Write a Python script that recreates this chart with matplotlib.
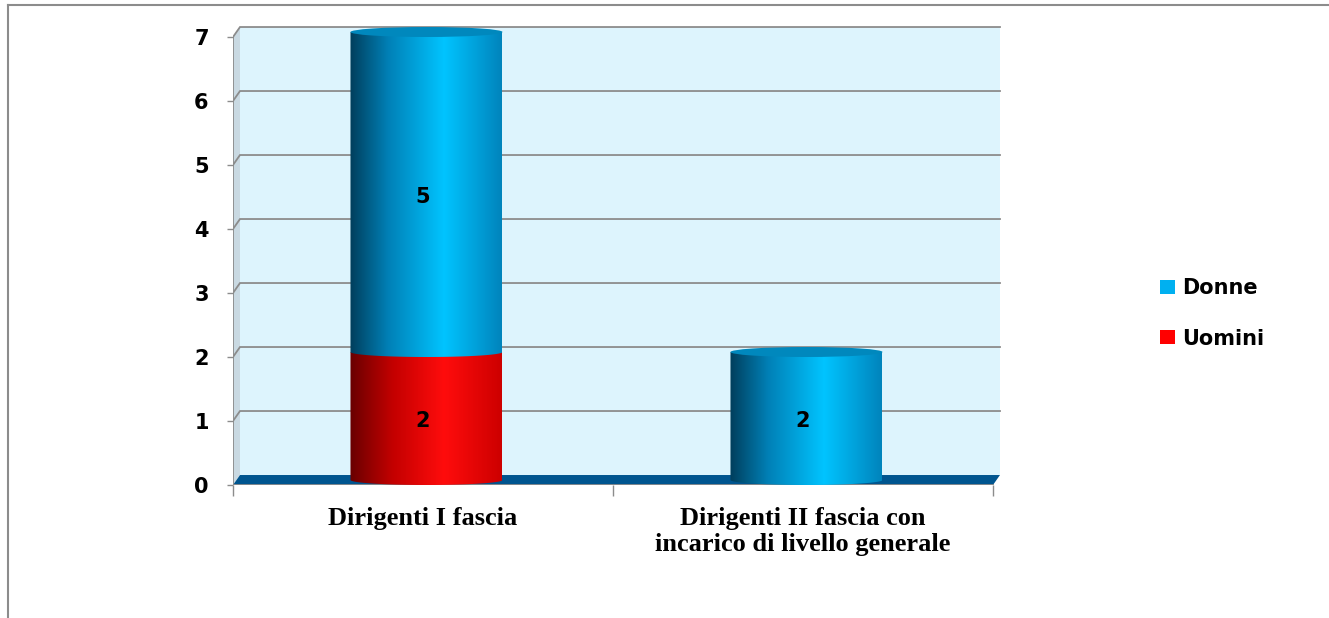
import numpy as np
import matplotlib
matplotlib.use("Agg")
import matplotlib.pyplot as plt
from matplotlib.patches import Polygon, PathPatch, Ellipse, Patch
from matplotlib.path import Path
from matplotlib.colors import LinearSegmentedColormap
from matplotlib.lines import Line2D

# Dati del grafico
categories = ["Dirigenti I fascia", "Dirigenti II fascia con\nincarico di livello generale"]
uomini = [2, 0]
donne = [5, 2]
series_names = ["Donne", "Uomini"]
y_ticks = [0, 1, 2, 3, 4, 5, 6, 7]

# Profondita' 3D in unita' dati
dx = 0.0184
dy = 0.156
bw = 0.4

sans = "DejaVu Sans"

blue_cmap = LinearSegmentedColormap.from_list("blu", [
  (0.0, (0/255, 62/255, 92/255)),
  (0.25, (0/255, 128/255, 182/255)),
  (0.62, (0/255, 196/255, 255/255)),
  (1.0, (0/255, 132/255, 188/255))])
red_cmap = LinearSegmentedColormap.from_list("rosso", [
  (0.0, (105/255, 0, 0)),
  (0.28, (195/255, 0, 0)),
  (0.62, (255/255, 12/255, 12/255)),
  (1.0, (205/255, 0, 0))])

def cylinder(ax, xc, y0, y1, cmap, top_color, draw_top=True):
  xm = xc + dx / 2
  x0 = xm - bw / 2
  x1 = xm + bw / 2
  yb = y0 + dy / 2
  yt = y1 + dy / 2
  e = dy / 2
  t = np.linspace(0, np.pi, 80)
  bx = xm + (bw / 2) * np.cos(t)
  by = yb - e * np.sin(t)
  verts = [(x0, yt), (x1, yt)] + list(zip(bx, by)) + [(x0, yt)]
  patch = PathPatch(Path(verts), fc="none", ec="none")
  ax.add_patch(patch)
  grad = np.linspace(0, 1, 256).reshape(1, -1)
  im = ax.imshow(grad, cmap=cmap, extent=[x0, x1, yb - e, yt], aspect="auto",
                 origin="lower", zorder=3, interpolation="bilinear")
  im.set_clip_path(patch)
  if draw_top:
    ax.add_patch(Ellipse((xm, yt), bw, 2 * e, fc=top_color, ec="none", zorder=4))

fig = plt.figure(figsize=(13.29, 6.18), dpi=100)
W, H = 1329, 618
px_x = 380.0
px_y = 64.0
ax = fig.add_axes([233 / W, (H - 485) / H, 2.03 * px_x / W, 7.4 * px_y / H])
ax.set_xlim(-0.5, 1.53)
ax.set_ylim(0, 7.4)
for s in ax.spines.values():
  s.set_visible(False)
ax.set_facecolor("none")

grey = "#8c8c8c"
xl, xr = -0.5, 1.5
ymax = y_ticks[-1]

# parete di fondo, parete laterale, pavimento
ax.add_patch(Polygon([(xl + dx, dy), (xr + dx, dy), (xr + dx, ymax + dy), (xl + dx, ymax + dy)],
                     closed=True, fc="#ddf4fd", ec="none", zorder=0))
ax.add_patch(Polygon([(xl, 0), (xl + dx, dy), (xl + dx, ymax + dy), (xl, ymax)],
                     closed=True, fc="#c9d9e2", ec="none", zorder=0))
for v in y_ticks[1:]:
  ax.plot([xl, xl + dx, xr + dx], [v, v + dy, v + dy], color=grey, lw=1.3, zorder=1,
          solid_joinstyle="miter")
ax.add_patch(Polygon([(xl, 0), (xr, 0), (xr + dx, dy), (xl + dx, dy)],
                     closed=True, fc="#00558f", ec="none", zorder=2))
ax.plot([xl, xl], [0, ymax], color=grey, lw=1.3, zorder=2)
ax.plot([xl, xr], [0, 0], color=grey, lw=1.3, zorder=2)

# cilindri
xs = np.arange(len(categories))
for i in xs:
  if uomini[i] > 0:
    cylinder(ax, i, 0, uomini[i], red_cmap, "#e00000", draw_top=False)
    ax.text(i, uomini[i] / 2, str(uomini[i]), ha="center", va="center",
            fontsize=15, fontweight="bold", family=sans, zorder=6)
  if donne[i] > 0:
    cylinder(ax, i, uomini[i], uomini[i] + donne[i], blue_cmap, "#0088bd")
    ax.text(i, uomini[i] + donne[i] / 2, str(donne[i]), ha="center", va="center",
            fontsize=15, fontweight="bold", family=sans, zorder=6)

# assi
ax.set_yticks(y_ticks)
ax.set_yticklabels([str(v) for v in y_ticks], fontsize=15, fontweight="bold", family=sans)
ax.tick_params(axis="y", length=4.5, width=1, color=grey, pad=13)
ax.set_xticks(xs)
ax.set_xticklabels(categories, fontsize=19, fontweight="bold", family="Liberation Serif",
                   linespacing=1.15)
ax.set_xticks([-0.5, 0.5, 1.5], minor=True)
ax.tick_params(axis="x", which="major", length=0, pad=16)
ax.tick_params(axis="x", which="minor", length=8, width=1, color=grey)

# legenda
handles = [Patch(fc="#00b0f0", ec="none"), Patch(fc="#ff0000", ec="none")]
fig.legend(handles, series_names, loc="upper left", bbox_to_anchor=(1150 / W, 1 - 268 / H),
           frameon=False, borderpad=0, handlelength=0.68, handleheight=0.68,
           handletextpad=0.38, labelspacing=1.45,
           prop={"family": sans, "weight": "bold", "size": 15})

# cornice
fig.add_artist(Line2D([8 / W, 8 / W], [0, 1 - 5 / H], color=grey, lw=1.5))
fig.add_artist(Line2D([8 / W, 1], [1 - 5 / H, 1 - 5 / H], color=grey, lw=1.5))

fig.savefig("out.png", dpi=100)
